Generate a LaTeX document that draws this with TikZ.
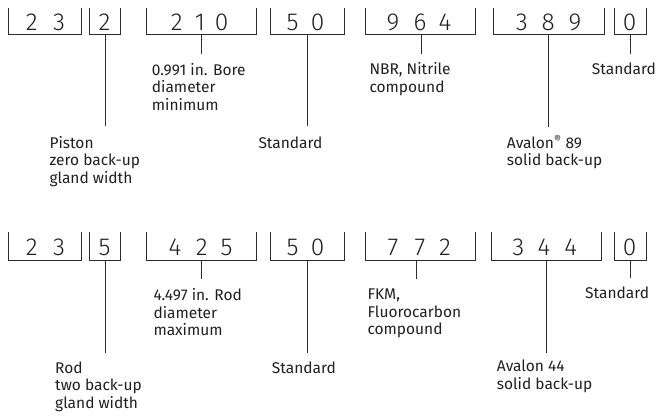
\documentclass[tikz,border=0pt]{standalone}
\usepackage{fontspec}
\setmainfont{Fira Sans}
\newfontfamily\dgfont{Fira Sans Light}
\definecolor{linec}{RGB}{45,42,42}
\definecolor{txtc}{RGB}{35,31,32}
\begin{document}
\begin{tikzpicture}[x=1pt,y=-1pt,
  br/.style={draw=linec, line width=0.9pt},
  conn/.style={draw=linec, line width=0.9pt},
  dig/.style={font=\dgfont\fontsize{24.5}{24.5}\selectfont, inner sep=0pt, anchor=base, text=txtc},
  lab/.style={font=\fontsize{15.5}{17.5}\selectfont, align=left, inner sep=0pt, anchor=base west, text=txtc}]
\useasboundingbox (0,0) rectangle (658,415);

% ---------- Row 1 ----------
\foreach \l/\r [count=\i] in {8.3/81.7, 89.3/120.7, 146.7/256, 270/344, 365/475, 493.3/604, 614/646.7}
  \draw[br] (\l,8) -- (\l,34.3) -- (\r,34.3) -- (\r,8);

\foreach \x/\d [count=\i] in {31.7/2, 59/3, 104.5/2, 176.7/2, 200/1, 221.7/0, 292.5/5, 317.5/0, 393/9, 420/6, 445/4, 521.7/3, 548.3/8, 575/9, 629.5/0}
  \node[dig] (ua\i) at (\x,30.5) {\d};

\coordinate (tb1) at (105,34.3);   \coordinate (eb1) at (105,126);
\coordinate (tc1) at (201.7,34.3); \coordinate (ec1) at (201.7,54);
\coordinate (td1) at (307.5,34.3); \coordinate (ed1) at (307.5,126);
\coordinate (te1) at (421.7,34.3); \coordinate (ee1) at (421.7,54);
\coordinate (tf1) at (548.5,34.3); \coordinate (ef1) at (548.5,126.5);
\coordinate (tg1) at (630,34.3);   \coordinate (eg1) at (630,54);
\foreach \n in {b,c,d,e,f,g} \draw[conn] (t\n1) -- (e\n1);

% (multi-line labels are anchored at the baseline of their last line)
\node[lab] (lb1) at (49.3,183.3) {Piston\\zero back-up\\gland width};
\node[lab] (lc1) at (151.7,110) {0.991 in. Bore\\diameter\\minimum};
\node[lab] (ld1) at (258.3,148.3) {Standard};
\node[lab] (le1) at (369.3,92) {NBR, Nitrile\\compound};
\node[lab] (lf1) at (506.7,165.8) {Avalon\textsuperscript{®} 89\\solid back-up};
\node[lab] (lg1) at (591.7,74.5) {Standard};

% ---------- Row 2 ----------
\foreach \l/\r [count=\i] in {8.3/81.7, 89.3/120.7, 146.7/256, 270/344, 365/475, 491.7/601.7, 614/646.7}
  \draw[br] (\l,232) -- (\l,260) -- (\r,260) -- (\r,232);

\foreach \x/\d [count=\i] in {31.7/2, 59/3, 104.5/5, 175/4, 201.7/2, 226.7/5, 292.5/5, 317.5/0, 393/7, 420/7, 445/2, 518.3/3, 544/4, 570.7/4, 629.5/0}
  \node[dig] (ub\i) at (\x,255.5) {\d};

\coordinate (tb2) at (105,260);   \coordinate (eb2) at (105,352.7);
\coordinate (tc2) at (201.7,260); \coordinate (ec2) at (201.7,279);
\coordinate (td2) at (307.5,260); \coordinate (ed2) at (307.5,352.7);
\coordinate (te2) at (416.5,260); \coordinate (ee2) at (416.5,279);
\coordinate (tf2) at (546.5,260); \coordinate (ef2) at (546.5,352.7);
\coordinate (tg2) at (630,260);   \coordinate (eg2) at (630,278);
\foreach \n in {b,c,d,e,f,g} \draw[conn] (t\n2) -- (e\n2);

\node[lab] (lb2) at (55,408.3) {Rod\\two back-up\\gland width};
\node[lab] (lc2) at (153.3,335.7) {4.497 in. Rod\\diameter\\maximum};
\node[lab] (ld2) at (271.7,373.3) {Standard};
\node[lab] (le2) at (367.3,334.5) {FKM,\\Fluorocarbon\\compound};
\node[lab] (lf2) at (496.7,389.2) {Avalon 44\\solid back-up};
\node[lab] (lg2) at (585,298.3) {Standard};
\end{tikzpicture}
\end{document}
